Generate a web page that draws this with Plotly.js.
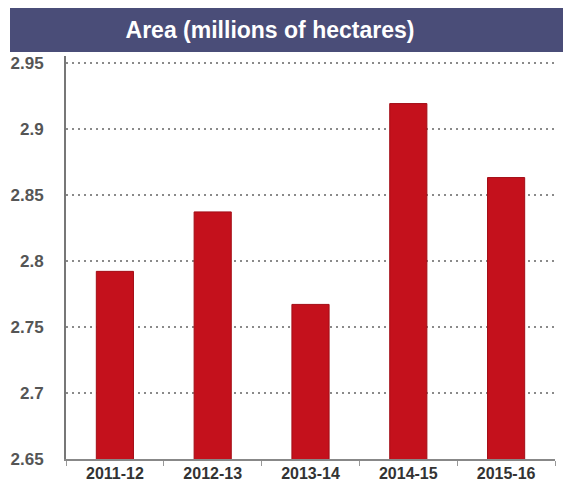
<!DOCTYPE html>
<html>
<head>
<meta charset="utf-8">
<script src="https://cdn.plot.ly/plotly-3.0.1.min.js"></script>
<style>html,body{margin:0;padding:0;background:#fff;}#chart{width:563px;height:484px;}</style>
</head>
<body>
<div id="chart"></div>
<script>
const categories = ["2011-12", "2012-13", "2013-14", "2014-15", "2015-16"];
const areaValues = [2.792, 2.837, 2.767, 2.919, 2.863];
const yTickValues = [2.65, 2.7, 2.75, 2.8, 2.85, 2.9, 2.95];
const titleText = "Area (millions of hectares)";

const trace = {
  type: "bar",
  x: categories,
  y: areaValues,
  width: 0.38,
  marker: {color: "#c4111c", line: {color: "#a30d16", width: 1}},
  hoverinfo: "x+y"
};

const W = 563, H = 484, ml = 66, mr = 8, mt = 56, mb = 25;
const pw = W - ml - mr, ph = H - mt - mb;

const layout = {
  width: W, height: H,
  margin: {l: ml, r: mr, t: mt, b: mb},
  paper_bgcolor: "#ffffff",
  plot_bgcolor: "#ffffff",
  showlegend: false,
  title: {
    text: "<b>" + titleText + "</b>",
    font: {family: "Liberation Sans, Arial, sans-serif", size: 23, color: "#ffffff"},
    x: 270 / W, xanchor: "center", xref: "container",
    y: 1 - 30 / H, yanchor: "middle", yref: "container"
  },
  shapes: [{
    type: "rect", xref: "paper", yref: "paper", layer: "below",
    x0: (10 - ml) / pw, x1: (W - ml) / pw,
    y0: (H - mb - 52) / ph, y1: (H - mb - 8) / ph,
    fillcolor: "#4a4d78", line: {width: 0}
  }],
  xaxis: {
    type: "category",
    range: [-0.5, 4.5],
    automargin: false,
    showline: true, linecolor: "#888888", linewidth: 1.5,
    ticks: "outside", tickson: "boundaries", ticklen: 5, tickcolor: "#999999", tickwidth: 1,
    ticklabelstandoff: -1,
    showgrid: false, zeroline: false,
    tickfont: {family: "Liberation Sans, Arial, sans-serif", size: 16, color: "#333333", weight: "bold"},
    fixedrange: true
  },
  yaxis: {
    range: [2.65, 2.955],
    automargin: false,
    tickvals: yTickValues,
    ticktext: yTickValues.map(v => String(v)),
    showline: true, linecolor: "#777777", linewidth: 2,
    ticks: "", ticklabelstandoff: 17,
    showgrid: true, gridcolor: "#8a8a8a", gridwidth: 2, griddash: "2px,4px",
    zeroline: false,
    tickfont: {family: "Liberation Sans, Arial, sans-serif", size: 17, color: "#555555", weight: "bold"},
    fixedrange: true
  }
};

Plotly.newPlot("chart", [trace], layout, {displayModeBar: false, staticPlot: true});
</script>
</body>
</html>
